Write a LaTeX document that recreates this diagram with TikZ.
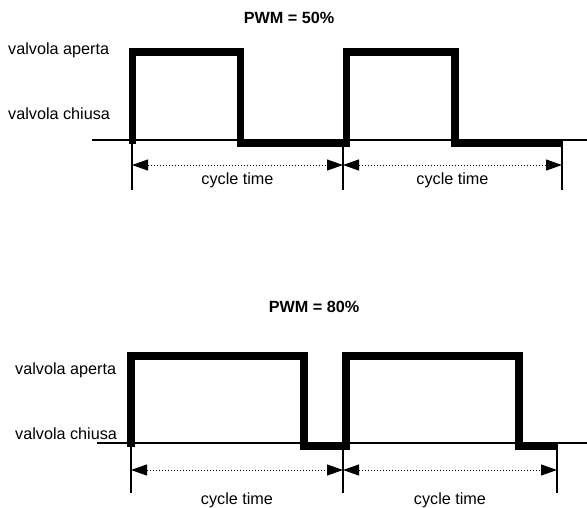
\documentclass[tikz,border=0pt]{standalone}
\usepackage{fontspec}
\setmainfont{Liberation Sans}
\usetikzlibrary{arrows.meta}

\tikzset{
  label/.style={anchor=west, inner sep=0pt},
  title/.style={inner sep=0pt, font=\fontsize{16.2}{18}\selectfont\bfseries},
  axis/.style={line width=1.5pt},
  signal/.style={line width=7.5pt, line join=miter},
  span/.style={<->, line width=1pt, dash pattern=on 1pt off 2pt}
}

\begin{document}
\begin{tikzpicture}[x=1pt, y=-1pt, font=\fontsize{16.2}{18}\selectfont, >={Triangle[length=16pt,width=11pt]}]
			\useasboundingbox (0,0) rectangle (587,507);
			% PWM = 50%
			\node[title] (t1) at (289,18) {PWM = 50\%};
			\node[label] (ap1) at (8,50) {valvola aperta};
			\node[label] (ch1) at (8,114) {valvola chiusa};
			\draw[axis] (92,140) -- (587,140);
			\draw[signal] (132.5,143.5) -- (132.5,52) -- (240.5,52) -- (240.5,143.5) -- (346.5,143.5)
				-- (346.5,52) -- (455,52) -- (455,143.5) -- (562,143.5);
			\coordinate (p1) at (132,165);
			\coordinate (p2) at (343,165);
			\coordinate (p3) at (562,165);
			\draw[axis] (132,140) -- (132,190);
			\draw[axis] (343,140) -- (343,190);
			\draw[axis] (562,140) -- (562,190);
			\draw[span] (p1) -- (p2) node[midway, below=7pt, inner sep=0pt] (ct1) {cycle time};
			\draw[span] (p2) -- (p3) node[midway, below=7pt, inner sep=0pt] (ct2) {cycle time};
			% PWM = 80%
			\node[title] (t2) at (314,307) {PWM = 80\%};
			\node[label] (ap2) at (15,370) {valvola aperta};
			\node[label] (ch2) at (15,434) {valvola chiusa};
			\draw[axis] (97,443) -- (587,443);
			\draw[signal] (131,446.5) -- (131,356) -- (304,356) -- (304,446.5) -- (346,446.5)
				-- (346,356) -- (519,356) -- (519,446.5) -- (557,446.5);
			\coordinate (q1) at (131,470);
			\coordinate (q2) at (343,470);
			\coordinate (q3) at (557,470);
			\draw[axis] (131,443) -- (131,493);
			\draw[axis] (343,443) -- (343,493);
			\draw[axis] (557,443) -- (557,493);
			\draw[span] (q1) -- (q2) node[midway, below=22pt, inner sep=0pt] (ct3) {cycle time};
			\draw[span] (q2) -- (q3) node[midway, below=22pt, inner sep=0pt] (ct4) {cycle time};
		\end{tikzpicture}
\end{document}
